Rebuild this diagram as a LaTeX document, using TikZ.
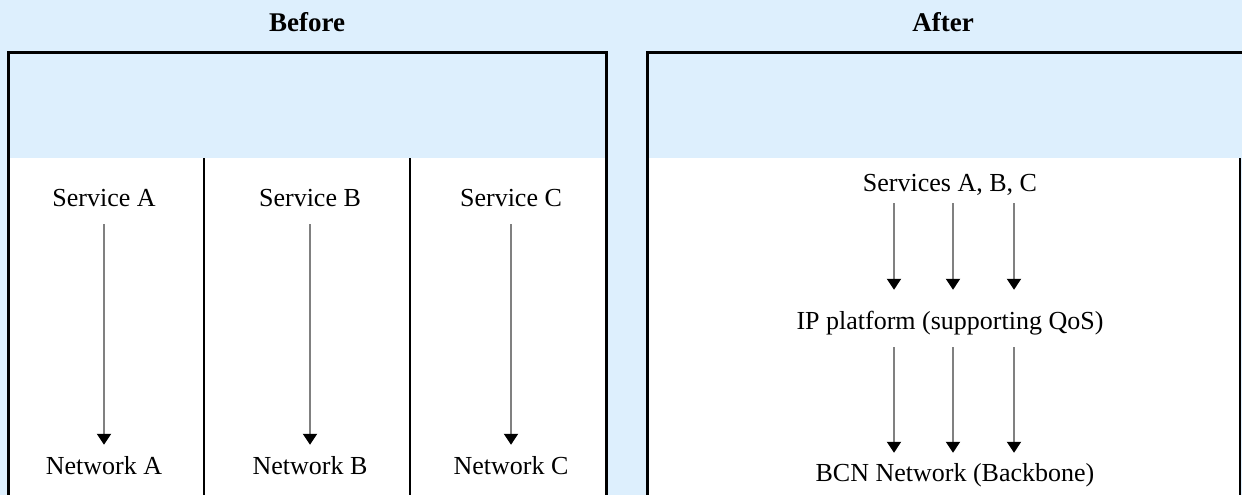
\documentclass[tikz,border=0pt]{standalone}
\usepackage{fontspec}
\setmainfont{Liberation Serif}
\usepackage{tikz}
\usetikzlibrary{arrows.meta}
\definecolor{paleblue}{RGB}{221,239,253}
\definecolor{shaftgray}{RGB}{128,128,128}
\begin{document}
\begin{tikzpicture}[x=1pt,y=-1pt,
    title/.style={font=\fontsize{27}{30}\selectfont\bfseries},
    label/.style={font=\fontsize{26}{30}\selectfont,inner sep=0pt,text height=18pt,text depth=6pt},
    flow/.style={draw=shaftgray,line width=2pt,-{Triangle[width=14pt,length=11pt,color=black]}},
    frame/.style={line width=3pt}]
    \useasboundingbox (0,0) rectangle (1242,495);
    \fill[paleblue] (0,0) rectangle (1242,495);
    \fill[white] (8,158) rectangle (606,495);
    \fill[white] (647,158) rectangle (1240,495);
    \draw[line width=1.2pt] (204,158) to (204,495);
    \draw[line width=1.2pt] (410,158) to (410,495);
    \draw[line width=1.5pt] (1240,158) to (1240,495);
    \draw[frame] (8,495) -- (8,53) -- (606,53) -- (606,495);
    \draw[frame] (647,495) -- (647,53) -- (1242,53);
    \node[title] (before) at (307,22) {Before};
    \node[title] (after) at (943,22) {After};
    \node[label] (svcA) at (104,200) {Service A};
    \node[label] (svcB) at (310,200) {Service B};
    \node[label] (svcC) at (511,200) {Service C};
    \node[label] (netA) at (104,468) {Network A};
    \node[label] (netB) at (310,468) {Network B};
    \node[label] (netC) at (511,468) {Network C};
    \draw[flow,shorten <=12pt,shorten >=11pt] (svcA.south) to (netA.north);
    \draw[flow,shorten <=12pt,shorten >=11pt] (svcB.south) to (netB.north);
    \draw[flow,shorten <=12pt,shorten >=11pt] (svcC.south) to (netC.north);
    \node[label] (svcs) at (950,185) {Services A, B, C};
    \node[label] (ip) at (950,323) {IP platform (supporting QoS)};
    \node[label] (bcn) at (955,475) {BCN Network (Backbone)};
    \foreach \dx in {-56,3,64} {
      \draw[flow,shorten <=6pt,shorten >=21pt] ([xshift=\dx pt]svcs.south) to ([xshift=\dx pt]ip.north);
      \draw[flow,shorten <=12pt,shorten >=10pt] ([xshift=\dx pt]ip.south) to ([xshift=\dx-5 pt]bcn.north);
    }
\end{tikzpicture}
\end{document}
